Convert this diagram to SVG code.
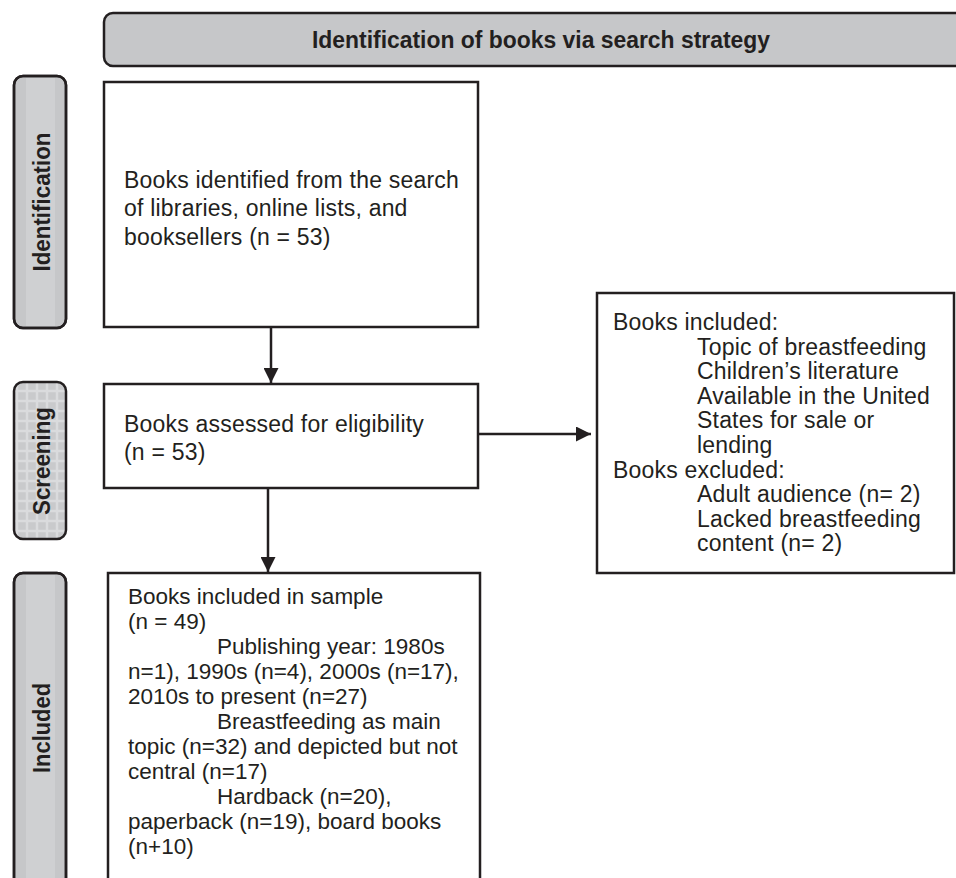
<svg xmlns="http://www.w3.org/2000/svg" width="956" height="878" viewBox="0 0 956 878">
  <style>
    .box { fill: #ffffff; stroke: #231f20; stroke-width: 2.5; }
    .side { fill: #c6c7c9; stroke: #231f20; stroke-width: 2.5; }
    .band { fill: #cfd0d2; }
    .txt { font-family: "Liberation Sans", Arial, sans-serif; font-size: 23px; letter-spacing: 0.2px; fill: #231f20; }
    .txt2 { font-family: "Liberation Sans", Arial, sans-serif; font-size: 22.5px; fill: #231f20; }
    .bold { font-family: "Liberation Sans", Arial, sans-serif; font-weight: bold; fill: #231f20; }
    .conn { stroke: #231f20; stroke-width: 2.5; fill: none; }
  </style>
  <defs>
    <marker id="arrow" viewBox="0 0 10 10" refX="10" refY="5" markerWidth="6" markerHeight="6" markerUnits="strokeWidth" orient="auto">
      <path d="M0,0 L10,5 L0,10 z" fill="#231f20"/>
    </marker>
    <pattern id="grid" width="10" height="10" patternUnits="userSpaceOnUse" x="22" y="386">
      <rect width="10" height="10" fill="#c9cacc"/>
      <path d="M5,0 V10 M0,5 H10" stroke="#dadbdd" stroke-width="2.5"/>
    </pattern>
  </defs>

  <g id="header">
    <rect x="104" y="13" width="880" height="53" rx="9" class="side"/>
    <text class="bold" x="541" y="48" font-size="23.5" text-anchor="middle" textLength="458" lengthAdjust="spacingAndGlyphs">Identification of books via search strategy</text>
  </g>

  <g id="label-identification">
    <rect x="14" y="76" width="52" height="252" rx="9" class="side"/>
    <rect x="26" y="78" width="29" height="248" class="band"/>
    <rect x="14" y="76" width="52" height="252" rx="9" fill="none" stroke="#231f20" stroke-width="2.5"/>
    <text class="bold" font-size="24" transform="translate(50,202) rotate(-90)" text-anchor="middle" textLength="139" lengthAdjust="spacingAndGlyphs">Identification</text>
  </g>

  <g id="label-screening">
    <rect x="14" y="382" width="52" height="157" rx="9" fill="url(#grid)" stroke="#231f20" stroke-width="2.5"/>
    <text class="bold" font-size="24" transform="translate(50,461) rotate(-90)" text-anchor="middle" textLength="108" lengthAdjust="spacingAndGlyphs">Screening</text>
  </g>

  <g id="label-included">
    <rect x="14" y="573" width="52" height="340" rx="9" class="side"/>
    <rect x="26" y="575" width="29" height="310" class="band"/>
    <rect x="14" y="573" width="52" height="340" rx="9" fill="none" stroke="#231f20" stroke-width="2.5"/>
    <text class="bold" font-size="24" transform="translate(50,728) rotate(-90)" text-anchor="middle" textLength="90" lengthAdjust="spacingAndGlyphs">Included</text>
  </g>

  <g id="node-identified">
    <rect x="104" y="82" width="374" height="245" class="box"/>
    <text class="txt" x="124" y="188">Books identified from the search</text>
    <text class="txt" x="124" y="216">of libraries, online lists, and</text>
    <text class="txt" x="124" y="245">booksellers (n = 53)</text>
  </g>

  <g id="node-assessed">
    <rect x="104" y="384" width="374" height="104" class="box"/>
    <text class="txt" x="124" y="432">Books assessed for eligibility</text>
    <text class="txt" x="124" y="460">(n = 53)</text>
  </g>

  <g id="node-criteria">
    <rect x="597" y="293" width="357" height="280" class="box"/>
    <text class="txt" x="613" y="330">Books included:</text>
    <text class="txt" x="697" y="355">Topic of breastfeeding</text>
    <text class="txt" x="697" y="379">Children’s literature</text>
    <text class="txt" x="697" y="404">Available in the United</text>
    <text class="txt" x="697" y="428">States for sale or</text>
    <text class="txt" x="697" y="453">lending</text>
    <text class="txt" x="613" y="478">Books excluded:</text>
    <text class="txt" x="697" y="502">Adult audience (n= 2)</text>
    <text class="txt" x="697" y="527">Lacked breastfeeding</text>
    <text class="txt" x="697" y="551">content (n= 2)</text>
  </g>

  <g id="node-sample">
    <rect x="108" y="573" width="372" height="340" class="box"/>
    <text class="txt2" x="128" y="604">Books included in sample</text>
    <text class="txt2" x="128" y="629">(n = 49)</text>
    <text class="txt2" x="217" y="654">Publishing year: 1980s</text>
    <text class="txt2" x="128" y="679">n=1), 1990s (n=4), 2000s (n=17),</text>
    <text class="txt2" x="128" y="704">2010s to present (n=27)</text>
    <text class="txt2" x="217" y="729">Breastfeeding as main</text>
    <text class="txt2" x="128" y="754">topic (n=32) and depicted but not</text>
    <text class="txt2" x="128" y="779">central (n=17)</text>
    <text class="txt2" x="217" y="804">Hardback (n=20),</text>
    <text class="txt2" x="128" y="829">paperback (n=19), board books</text>
    <text class="txt2" x="128" y="854">(n+10)</text>
  </g>

  <g id="connectors">
    <line x1="271" y1="327" x2="271" y2="383" class="conn" marker-end="url(#arrow)"/>
    <line x1="478" y1="434" x2="591" y2="434" class="conn" marker-end="url(#arrow)"/>
    <line x1="268" y1="488" x2="268" y2="572" class="conn" marker-end="url(#arrow)"/>
  </g>
</svg>
